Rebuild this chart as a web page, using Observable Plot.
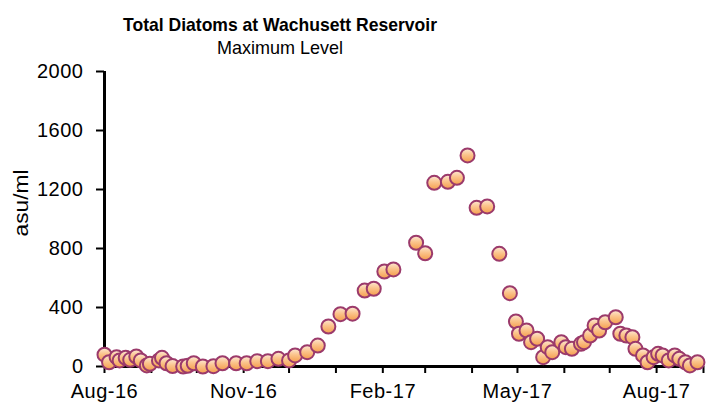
<!DOCTYPE html>
<html><head><meta charset="utf-8">
<script src="https://cdn.jsdelivr.net/npm/d3@7"></script>
<script src="https://cdn.jsdelivr.net/npm/@observablehq/plot@0.6"></script>
<style>
body{margin:0;background:#fff;}
#chart{width:713px;height:405px;}
</style></head><body>
<div id="chart"></div>
<script>
const dates = ["2016-08-01","2016-08-04","2016-08-09","2016-08-11","2016-08-15","2016-08-18","2016-08-22","2016-08-25","2016-08-29","2016-08-31",
"2016-09-06","2016-09-08","2016-09-11","2016-09-15","2016-09-22","2016-09-25","2016-09-29","2016-10-05","2016-10-12","2016-10-18",
"2016-10-27","2016-11-03","2016-11-10","2016-11-17","2016-11-24","2016-12-01","2016-12-05","2016-12-13","2016-12-20","2016-12-27",
"2017-01-04","2017-01-12","2017-01-20","2017-01-26","2017-02-02","2017-02-08","2017-02-23","2017-03-01","2017-03-07","2017-03-16",
"2017-03-22","2017-03-29","2017-04-04","2017-04-11","2017-04-19","2017-04-26","2017-04-30","2017-05-02","2017-05-07","2017-05-10",
"2017-05-14","2017-05-18","2017-05-21","2017-05-24","2017-05-30","2017-06-02","2017-06-06","2017-06-12","2017-06-14","2017-06-18",
"2017-06-21","2017-06-24","2017-06-28","2017-07-05","2017-07-08","2017-07-12","2017-07-16","2017-07-18","2017-07-23","2017-07-26",
"2017-07-30","2017-08-02","2017-08-05","2017-08-09","2017-08-13","2017-08-16","2017-08-20","2017-08-23","2017-08-28"];
const values = [80,29,63,41,59,45,68,41,7,18,
41,59,22,3,0,5,22,0,2,22,
22,22,36,36,52,41,75,97,142,271,
355,358,515,527,644,658,839,768,1245,1252,
1279,1431,1076,1085,764,497,305,222,244,165,
188,63,131,97,165,131,120,154,165,210,
278,244,300,334,222,210,199,120,75,29,
63,86,75,41,75,52,29,7,29];
const yTicks = [0,400,800,1200,1600,2000];
const xLabelDates = ["2016-08-01","2016-11-01","2017-02-01","2017-05-01","2017-08-01"];
const xTickLabels = ["Aug-16","Nov-16","Feb-17","May-17","Aug-17"];
const xStart = "2016-08-01", xEnd = "2017-09-01";
const titleText = "Total Diatoms at Wachusett Reservoir";
const subtitleText = "Maximum Level";
const yLabel = "asu/ml";

const data = dates.map((d, i) => ({date: new Date(d), value: values[i]}));
const monthTicks = d3.utcMonth.range(new Date(xStart), d3.utcDay.offset(new Date(xEnd), 1));
const labelTicks = xLabelDates.map(d => new Date(d));
const font = "'Liberation Sans', Arial, sans-serif";

const chart = Plot.plot({
  width: 713, height: 405,
  marginLeft: 104, marginRight: 10, marginTop: 71, marginBottom: 39,
  style: {fontFamily: font, fontSize: "20px", letterSpacing: "0.5px", color: "#000", background: "#fff", overflow: "visible"},
  x: {type: "utc", domain: [new Date(xStart), new Date(xEnd)]},
  y: {domain: [0, 2000]},
  marks: [
    Plot.axisY({ticks: yTicks, tickSize: 8, tickPadding: 13, strokeWidth: 2, tickFormat: d => String(d), label: null}),
    Plot.axisX({ticks: monthTicks, tickSize: 7, strokeWidth: 2, tickFormat: () => "", label: null}),
    Plot.axisX({ticks: labelTicks, tickSize: 0, tickPadding: 17,
      tickFormat: d => xTickLabels[labelTicks.findIndex(t => +t === +d)], label: null}),
    Plot.ruleX([new Date(xStart)], {stroke: "#000", strokeWidth: 3}),
    Plot.ruleY([0], {stroke: "#000", strokeWidth: 3}),
    Plot.dot(data, {x: "date", y: "value", r: 7, fill: "url(#dotGrad)", stroke: "#9b3a6b", strokeWidth: 2})
  ]
});
document.getElementById("chart").appendChild(chart);

const svg = d3.select(chart);
const grad = svg.insert("defs", ":first-child").append("linearGradient")
  .attr("id", "dotGrad").attr("x1", 0).attr("y1", 0).attr("x2", 0).attr("y2", 1);
grad.append("stop").attr("offset", "0%").attr("stop-color", "#fde8d6");
grad.append("stop").attr("offset", "45%").attr("stop-color", "#fbc48c");
grad.append("stop").attr("offset", "100%").attr("stop-color", "#f59d4c");

svg.append("text").attr("x", 280).attr("y", 31).attr("text-anchor", "middle")
  .attr("font-family", font).attr("font-size", 19).attr("font-weight", "bold").attr("fill", "#000")
  .attr("letter-spacing", 0).attr("textLength", 314).attr("lengthAdjust", "spacingAndGlyphs").text(titleText);
svg.append("text").attr("x", 280).attr("y", 54).attr("text-anchor", "middle")
  .attr("font-family", font).attr("font-size", 19).attr("fill", "#000")
  .attr("letter-spacing", 0).attr("textLength", 126).attr("lengthAdjust", "spacingAndGlyphs").text(subtitleText);
svg.append("text").attr("transform", "translate(28,203) rotate(-90)").attr("text-anchor", "middle")
  .attr("font-family", font).attr("font-size", 20).attr("fill", "#000")
  .attr("letter-spacing", 0).attr("textLength", 67).attr("lengthAdjust", "spacingAndGlyphs").text(yLabel);
</script>
</body></html>
